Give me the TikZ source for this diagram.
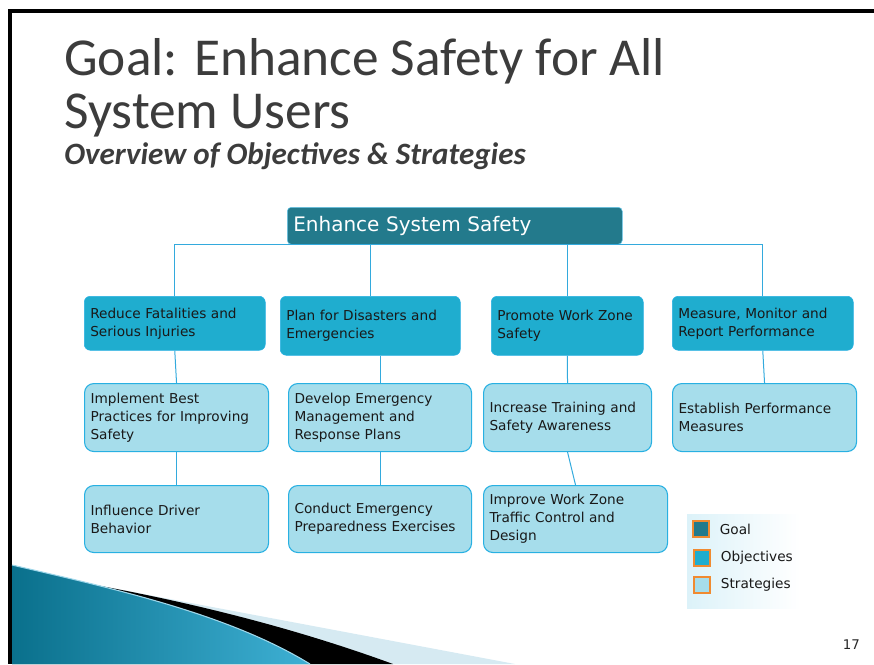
\documentclass[tikz,border=0pt]{standalone}
\usepackage{fontspec}
\setmainfont{DejaVu Sans}
\newfontfamily\titlefont{Carlito}
\usetikzlibrary{positioning}
\definecolor{goalteal}{RGB}{35,122,140}
\definecolor{objblue}{RGB}{31,173,207}
\definecolor{stratblue}{RGB}{166,221,235}
\definecolor{edgeblue}{RGB}{40,176,226}
\definecolor{linkblue}{RGB}{51,170,221}
\definecolor{keyorange}{RGB}{240,138,48}
\definecolor{keybg}{RGB}{220,242,249}
\definecolor{titlegray}{RGB}{60,60,60}
\definecolor{swoosh}{RGB}{10,112,140}
\definecolor{swooshlight}{RGB}{62,176,212}
\definecolor{paleband}{RGB}{214,234,242}

\tikzset{
  boxtext/.style={font=\fontsize{10.25}{13.5}\selectfont, text=black!90, align=left,
    anchor=north west, inner xsep=4.5pt, inner ysep=0pt},
  boxsize/.style 2 args={minimum width=#1*0.75pt, text width=#1*0.75pt-9pt,
    minimum height=#2*0.75pt},
  goalbox/.style={boxtext, fill=goalteal, draw=edgeblue!70, rounded corners=3pt,
    text=white, font=\fontsize{15}{18}\selectfont},
  objbox/.style={boxtext, fill=objblue, draw=edgeblue, rounded corners=4.5pt},
  stratbox/.style={boxtext, fill=stratblue, draw=edgeblue, rounded corners=7pt, line width=0.8pt},
  link/.style={draw=linkblue, line width=0.75pt},
  keybox/.style={draw=keyorange, line width=0.9pt, minimum size=12pt, inner sep=0pt},
  keytext/.style={font=\fontsize{10.25}{12}\selectfont, text=black!90, inner sep=0pt}
}

\begin{document}
\begin{tikzpicture}[x=0.75pt, y=-0.75pt]
  \useasboundingbox (0,0) rectangle (874,664);
  % slide frame
  \fill[black] (8,9) rectangle (12,664);
  \fill[black] (8,9) rectangle (874,13);
  % bottom left swoosh
  \fill[paleband] (12,565) -- (90,584) -- (515,664) -- (12,664) -- cycle;
  \fill[black] (12,565) -- (90,584) .. controls (200,604) and (300,630) .. (393,664)
    -- (12,664) -- cycle;
  \shade[left color=swoosh, right color=swooshlight]
    (12,565) .. controls (120,590) and (230,615) .. (310,664) -- (12,664) -- cycle;
  \draw[swooshlight!50!white, line width=0.8pt]
    (12,565) .. controls (120,590) and (230,615) .. (310,664);

  % title
  \node[anchor=base west, inner sep=0pt, text=titlegray, font=\titlefont\fontsize{40}{40}\selectfont]
    (title1) at (64,75) {Goal: Enhance Safety for All};
  \node[anchor=base west, inner sep=0pt, text=titlegray, font=\titlefont\fontsize{40}{40}\selectfont]
    (title2) at (64,128) {System Users};
  \node[anchor=base west, inner sep=0pt, text=titlegray, font=\titlefont\bfseries\itshape\fontsize{23.3}{23}\selectfont]
    (subtitle) at (64,164) {Overview of Objectives \& Strategies};

  % goal
  \node[goalbox, boxsize={335}{37}] (goal) at (287,207) {Enhance System Safety};

  % objectives
  \node[objbox, boxsize={181}{54}] (o1) at (84,296) {Reduce Fatalities and\\Serious Injuries};
  \node[objbox, boxsize={180}{59}] (o2) at (280,296) {Plan for Disasters and\\Emergencies};
  \node[objbox, boxsize={152}{59}] (o3) at (491,296) {Promote Work Zone\\Safety};
  \node[objbox, boxsize={181}{54}] (o4) at (672,296) {Measure, Monitor and\\Report Performance};

  % strategies
  \node[stratbox, boxsize={184}{68}] (s1) at (84,383) {Implement Best\\Practices for Improving\\Safety};
  \node[stratbox, boxsize={183}{68}] (s2) at (288,383) {Develop Emergency\\Management and\\Response Plans};
  \node[stratbox, boxsize={168}{68}] (s3) at (483,383) {Increase Training and\\Safety Awareness};
  \node[stratbox, boxsize={184}{68}] (s4) at (672,383) {Establish Performance\\Measures};
  \node[stratbox, boxsize={184}{67}] (s5) at (84,485) {Influence Driver\\Behavior};
  \node[stratbox, boxsize={183}{67}] (s6) at (288,485) {Conduct Emergency\\Preparedness Exercises};
  \node[stratbox, boxsize={184}{67}] (s7) at (483,485) {Improve Work Zone\\Traffic Control and\\Design};

  % connectors
  \draw[link] (o1.north) |- (goal.south) -| (o4.north);
  \draw[link] (o2.north) -- (o2.north |- goal.south);
  \draw[link] (o3.north) -- (o3.north |- goal.south);
  \draw[link] (o1.south) -- (s1.north);
  \draw[link] (s2.north |- o2.south) -- (s2.north);
  \draw[link] (o3.south) -- (s3.north);
  \draw[link] (o4.south) -- (s4.north);
  \draw[link] (s1.south) -- (s5.north);
  \draw[link] (s2.south) -- (s6.north);
  \draw[link] (s3.south) -- (s7.north);

  % legend
  \shade[left color=keybg, right color=white] (687,514) rectangle (800,608);
  \node[keybox, fill=goalteal] (kgoal) at (701,529) {};
  \node[keybox, fill=objblue] (kobj) at (702,558) {};
  \node[keybox, fill=stratblue] (kstrat) at (702,585) {};
  \node[keytext, right=7.5pt of kgoal] (lgoal) {Goal};
  \node[keytext, right=7.5pt of kobj] (lobj) {Objectives};
  \node[keytext, right=7.5pt of kstrat] (lstrat) {Strategies};

  % page number
  \node[anchor=base east, inner sep=0pt, text=black!85, font=\fontsize{10}{12}\selectfont]
    (pagenum) at (860,649) {17};
\end{tikzpicture}
\end{document}
